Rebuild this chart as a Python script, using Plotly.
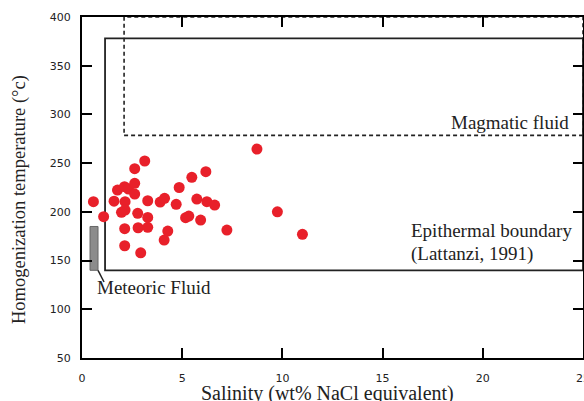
import plotly.graph_objects as go

salinity = [0.57, 1.08, 1.6, 1.77, 2.12, 2.32, 2.63, 2.63, 3.13, 2.63, 2.15, 2.15, 1.97, 2.78,
            3.28, 3.28, 2.13, 2.8, 3.28, 2.13, 2.93, 4.1, 4.28, 3.9, 4.12, 4.7, 4.85, 5.48,
            6.18, 5.73, 6.23, 6.62, 5.17, 5.33, 5.92, 7.23, 8.73, 9.75, 11.0]
temperature = [210.4, 195, 211, 222.4, 225.8, 223.4, 229.3, 244.3, 252.2, 218.3, 210.4, 201.8, 199.5, 198.5,
               211.4, 194.3, 182.7, 183.7, 184.1, 165.2, 158, 171, 180.3, 210, 213.9, 207.7, 225, 235.4,
               241.2, 213.1, 210.4, 207, 194, 195.7, 191.6, 181.3, 264.5, 200, 177]

x_ticks = [0, 5, 10, 15, 20, 25]
y_ticks = [50, 100, 150, 200, 250, 300, 350, 400]

epithermal_box = dict(x0=1.15, x1=25, y0=140, y1=378)
magmatic_box = dict(x0=2.1, x1=25, y0=278.5, y1=400)
meteoric_bar = dict(x0=0.4, x1=0.8, y0=140, y1=185)

serif = "Liberation Serif, Times New Roman, serif"

fig = go.Figure()
fig.add_trace(go.Scatter(
    x=salinity, y=temperature, mode="markers",
    marker=dict(color="#e8202a", size=11, line=dict(width=0)),
    showlegend=False, hoverinfo="x+y", cliponaxis=False))

shapes = [
    dict(type="rect", xref="x", yref="y", **epithermal_box,
         line=dict(color="#222222", width=1.8), fillcolor="rgba(0,0,0,0)", layer="below"),
    dict(type="rect", xref="x", yref="y", **magmatic_box,
         line=dict(color="#222222", width=1.6, dash="4px,3px"), fillcolor="rgba(0,0,0,0)", layer="below"),
    dict(type="rect", xref="x", yref="y", **meteoric_bar,
         line=dict(color="#666666", width=1), fillcolor="#8c8c8c", layer="below"),
    dict(type="line", xref="x", yref="y", x0=0.8, y0=140, x1=1.1, y1=128,
         line=dict(color="#222222", width=1.5)),
]

annotations = [
    dict(text="Magmatic fluid", x=24.4, y=292.2, xref="x", yref="y", xanchor="right", yanchor="middle",
         showarrow=False, font=dict(family=serif, size=19, color="#222222")),
    dict(text="Epithermal boundary", x=16.3, y=181.3, xref="x", yref="y", xanchor="left", yanchor="middle",
         showarrow=False, font=dict(family=serif, size=19, color="#222222")),
    dict(text="(Lattanzi, 1991)", x=16.3, y=156.7, xref="x", yref="y", xanchor="left", yanchor="middle",
         showarrow=False, font=dict(family=serif, size=19, color="#222222")),
    dict(text="Meteoric Fluid", x=0.65, y=122.8, xref="x", yref="y", xanchor="left", yanchor="middle",
         showarrow=False, font=dict(family=serif, size=19, color="#222222")),
    dict(text="Homogenization temperature (°c)", x=(19 - 82) / 501, y=(358 - 200) / 341,
         xref="paper", yref="paper", xanchor="center", yanchor="middle", textangle=-90,
         showarrow=False, font=dict(family=serif, size=18.5, color="#222222")),
    dict(text="Salinity (wt% NaCl equivalent)", x=(327 - 82) / 501, y=(358 - 380) / 341,
         xref="paper", yref="paper", xanchor="center", yanchor="top",
         showarrow=False, font=dict(family=serif, size=20, color="#222222")),
]

tick_font = dict(family="DejaVu Sans, sans-serif", size=11, color="#222222")

fig.update_layout(
    width=584, height=401,
    margin=dict(l=82, r=1, t=17, b=43, autoexpand=False),
    paper_bgcolor="white", plot_bgcolor="white",
    shapes=shapes, annotations=annotations,
    xaxis=dict(range=[0, 25], tickvals=x_ticks, ticktext=[str(v) for v in x_ticks],
               showgrid=False, zeroline=False, showline=True, linecolor="black", linewidth=2,
               mirror="ticks", ticks="inside", ticklen=10, tickwidth=2, tickcolor="black",
               tickfont=tick_font, ticklabelstandoff=9, automargin=False,
               ticklabeloverflow="allow"),
    yaxis=dict(range=[50, 400], tickvals=y_ticks, ticktext=[str(v) for v in y_ticks],
               showgrid=False, zeroline=False, showline=True, linecolor="black", linewidth=2,
               mirror="ticks", ticks="inside", ticklen=10, tickwidth=2, tickcolor="black",
               tickfont=tick_font, ticklabelstandoff=7, automargin=False),
)

fig.write_html("out.html", config={"displayModeBar": False},
               post_script="document.body.style.margin='0';document.body.style.overflow='hidden';")
